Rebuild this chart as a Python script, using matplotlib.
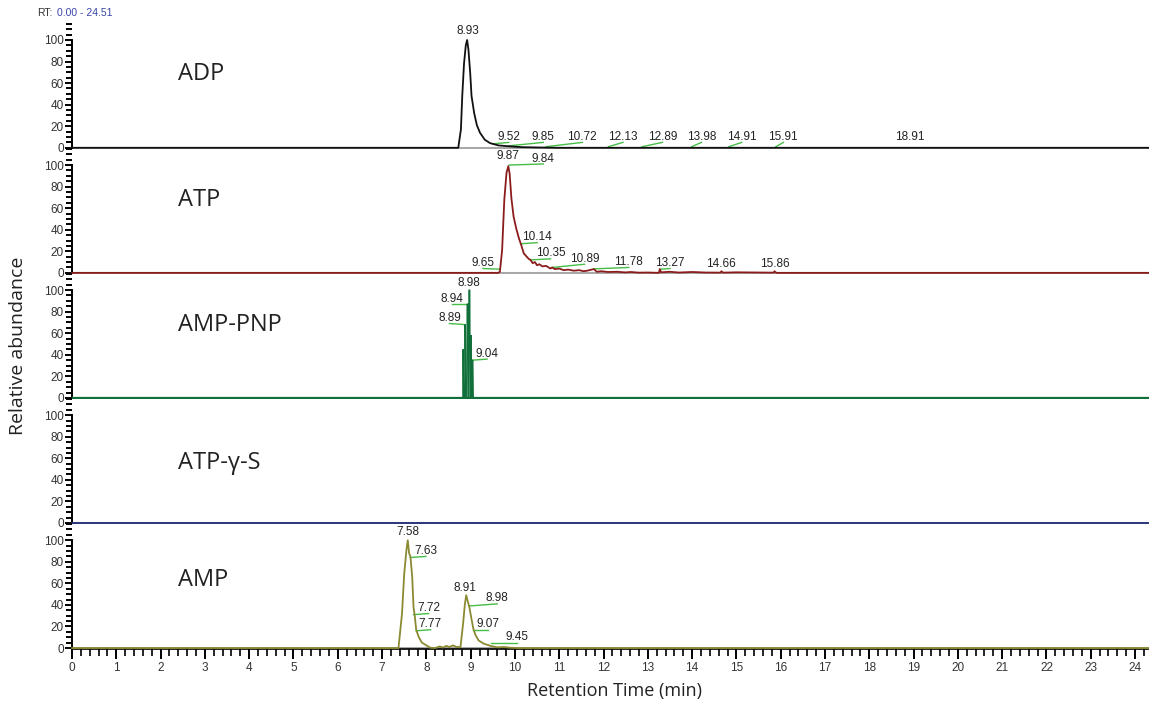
import matplotlib.pyplot as plt
from matplotlib.ticker import MultipleLocator

plt.rcParams['font.family'] = ['Liberation Sans', 'DejaVu Sans']

RT_END = 24.51

# traces (retention time in min, relative abundance in %)
adp_t = [0.0, 8.72, 8.78, 8.81, 8.85, 8.89, 8.92, 8.95, 8.99, 9.02, 9.08, 9.14, 9.21,
         9.32, 9.44, 9.52, 9.63, 9.80, 9.93, 10.15, 10.5, 11.0, RT_END]
adp_y = [0, 0, 17, 48, 78, 95, 100, 91, 69, 48, 32, 21, 14,
         7.4, 4.3, 3.4, 2.2, 1.6, 1.2, 0.6, 0.3, 0, 0]

atp_t = [0.0, 9.62, 9.66, 9.71, 9.76, 9.81, 9.85, 9.88, 9.92, 9.97, 10.03, 10.09, 10.14,
         10.20, 10.31, 10.35, 10.40, 10.45, 10.50, 10.55, 10.62, 10.70, 10.80, 10.84,
         10.90, 11.00, 11.10, 11.20, 11.33, 11.45, 11.55, 11.63, 11.78, 11.85, 11.95,
         12.10, 12.30, 12.50, 12.61, 12.80, 13.00, 13.25, 13.27, 13.30, 13.50, 13.70,
         14.00, 14.30, 14.64, 14.66, 14.70, 15.00, 15.84, 15.86, 15.90, RT_END]
atp_y = [0, 0, 1, 21, 68, 93, 99, 92, 69, 52, 41, 32, 26,
         18, 13, 12, 9, 10, 7, 8, 6, 6.5, 4, 5,
         3.5, 4, 2.5, 3, 2, 2.5, 1.5, 2, 3.5, 1, 1.5,
         0.8, 1, 0.4, 0.8, 0.2, 0.3, 0, 3.4, 0.5, 1, 0.3,
         0.8, 0.3, 0.2, 1.5, 0.2, 0.5, 0.2, 1.5, 0, 0]

pnp_t = [0.0, 8.825, 8.83, 8.84, 8.865, 8.87, 8.88, 8.89, 8.905, 8.915, 8.92, 8.94, 8.95,
         8.955, 8.96, 8.98, 8.99, 9.00, 9.01, 9.02, 9.03, 9.04, 9.05, 9.06, 9.07, RT_END]
pnp_y = [0, 0, 45, 0, 0, 68, 68, 0, 0, 0, 87, 87, 0,
         0, 100, 100, 0, 0, 58, 0, 0, 35, 35, 0, 0, 0]

gs_t = [0.0, RT_END]
gs_y = [0, 0]

amp_t = [0.0, 7.37, 7.45, 7.50, 7.55, 7.58, 7.61, 7.64, 7.68, 7.71, 7.74, 7.77, 7.83,
         7.90, 8.02, 8.09, 8.20, 8.30, 8.38, 8.45, 8.52, 8.60, 8.68, 8.77, 8.83, 8.87,
         8.90, 8.93, 8.97, 9.01, 9.06, 9.11, 9.18, 9.30, 9.45, 9.60, 9.75, 9.90, 10.1, RT_END]
amp_y = [0, 0, 32, 69, 91, 100, 88, 85, 66, 38, 29, 17, 10,
         5, 2, 0.3, 0, 1.5, 0.5, 2, 1, 2.5, 1, 1, 23, 41,
         49, 44, 38, 29, 18, 12, 7, 4, 2, 0.7, 1, 0.3, 0, 0]

# peak labels: text, apex rt, apex level, label x, label y (centre)
adp_labels = [('8.93', 8.93, 100, 8.93, 108), ('9.52', 9.52, 3.7, 9.86, 10),
              ('9.85', 9.86, 1.8, 10.64, 10), ('10.72', 10.70, 1, 11.52, 10),
              ('12.13', 12.11, 1, 12.44, 10), ('12.89', 12.87, 1, 13.33, 10),
              ('13.98', 13.99, 1, 14.21, 10), ('14.91', 14.83, 1, 15.12, 10),
              ('15.91', 15.89, 1, 16.06, 10), ('18.91', 18.91, 0, 18.91, 10)]
atp_labels = [('9.87', 9.85, 99, 9.85, 108), ('9.84', 9.87, 100, 10.64, 106),
              ('10.14', 10.14, 27, 10.50, 33), ('10.35', 10.35, 12, 10.80, 18),
              ('10.89', 10.84, 5, 11.57, 13), ('11.78', 11.78, 3.7, 12.57, 10),
              ('13.27', 13.27, 3.4, 13.50, 9), ('14.66', 14.66, 1.5, 14.64, 8),
              ('15.86', 15.86, 1.5, 15.86, 8), ('9.65', 9.66, 3.4, 9.28, 9)]
pnp_labels = [('8.98', 8.97, 100, 8.97, 107), ('8.94', 8.95, 87, 8.58, 92),
              ('8.89', 8.88, 68, 8.52, 74), ('9.04', 9.04, 35, 9.37, 41)]
amp_labels = [('7.58', 7.58, 100, 7.58, 108), ('7.63', 7.64, 84, 7.99, 90),
              ('7.72', 7.71, 31, 8.05, 37), ('7.77', 7.77, 16, 8.09, 22),
              ('8.91', 8.90, 49, 8.88, 56), ('8.98', 8.96, 39, 9.60, 46),
              ('9.07', 9.06, 17, 9.39, 22), ('9.45', 9.45, 5, 10.05, 10)]

names = ['ADP', 'ATP', 'AMP-PNP', 'ATP-γ-S', 'AMP']
traces = [(adp_t, adp_y), (atp_t, atp_y), (pnp_t, pnp_y), (gs_t, gs_y), (amp_t, amp_y)]
labels = [adp_labels, atp_labels, pnp_labels, [], amp_labels]
colors = ['#111111', '#8b1c1c', '#11703a', '#23307a', '#8a8a32']
name_y = [68, 68, 68, 56, 63]

fig = plt.figure(figsize=(11.49, 7.02), dpi=100)
gs = fig.add_gridspec(5, 1, left=0.0627, right=0.0627 + 0.9448,
                      top=0.9661, bottom=0.0753, hspace=0)

for i in range(5):
    ax = fig.add_subplot(gs[i])
    t, y = traces[i]
    lw = 0.9 if i == 2 else 1.3
    ax.axhline(0, color='#a8a8a8', lw=2.2, zorder=1)
    ax.plot(t, y, color=colors[i], lw=lw, zorder=3, clip_on=False)
    if i == 2:
        ax.axhline(0, color=colors[i], lw=1.6, zorder=3)

    for txt, rt, lev, lx, ly in labels[i]:
        if abs(lx - rt) > 0.05:
            ax.plot([rt, lx], [lev, ly - 5], color='#46bd46', lw=1.0, zorder=2)
        ax.text(lx, ly, txt, ha='center', va='center', fontsize=8.5,
                color='#222222', zorder=4)

    ax.text(0.098, name_y[i], names[i], transform=ax.get_yaxis_transform(),
            fontsize=17, family=['Open Sans', 'DejaVu Sans'], color='#222222',
            va='center', ha='left')

    ax.set_xlim(0, RT_END)
    ax.set_ylim(-1, 115)
    ax.set_yticks([0, 20, 40, 60, 80, 100])
    ax.yaxis.set_minor_locator(MultipleLocator(5))
    ax.spines['left'].set_bounds(0, 100)
    ax.spines['left'].set_linewidth(1.4)
    ax.spines['top'].set_visible(False)
    ax.spines['right'].set_visible(False)
    ax.tick_params(axis='y', which='major', length=5, width=1.4, pad=1,
                   labelsize=8.5, labelcolor='#333333')
    ax.tick_params(axis='y', which='minor', length=4, width=1.4)

    if i < 4:
        ax.spines['bottom'].set_visible(False)
        ax.tick_params(axis='x', which='both', bottom=False, labelbottom=False)
    else:
        ax.spines['bottom'].set_linewidth(1.2)
        ax.xaxis.set_major_locator(MultipleLocator(1))
        ax.xaxis.set_minor_locator(MultipleLocator(0.2))
        ax.tick_params(axis='x', which='major', length=7, width=1.4, pad=2,
                       labelsize=8.5, labelcolor='#333333')
        ax.tick_params(axis='x', which='minor', length=5, width=1.2)
        ax.set_xlabel('Retention Time (min)', fontsize=13,
                      family=['Open Sans', 'DejaVu Sans'], color='#222222', labelpad=6)

fig.text(0.0157, 0.508, 'Relative abundance', rotation=90, ha='center', va='center',
         fontsize=14, family=['Open Sans', 'DejaVu Sans'], color='#222222')
fig.text(0.032, 0.981, 'RT:', fontsize=7.5, color='#333333', va='center')
fig.text(0.0497, 0.981, '0.00 - 24.51', fontsize=7.5, color='#3a45a8', va='center')

fig.savefig('out.png', dpi=100)
plt.close(fig)
